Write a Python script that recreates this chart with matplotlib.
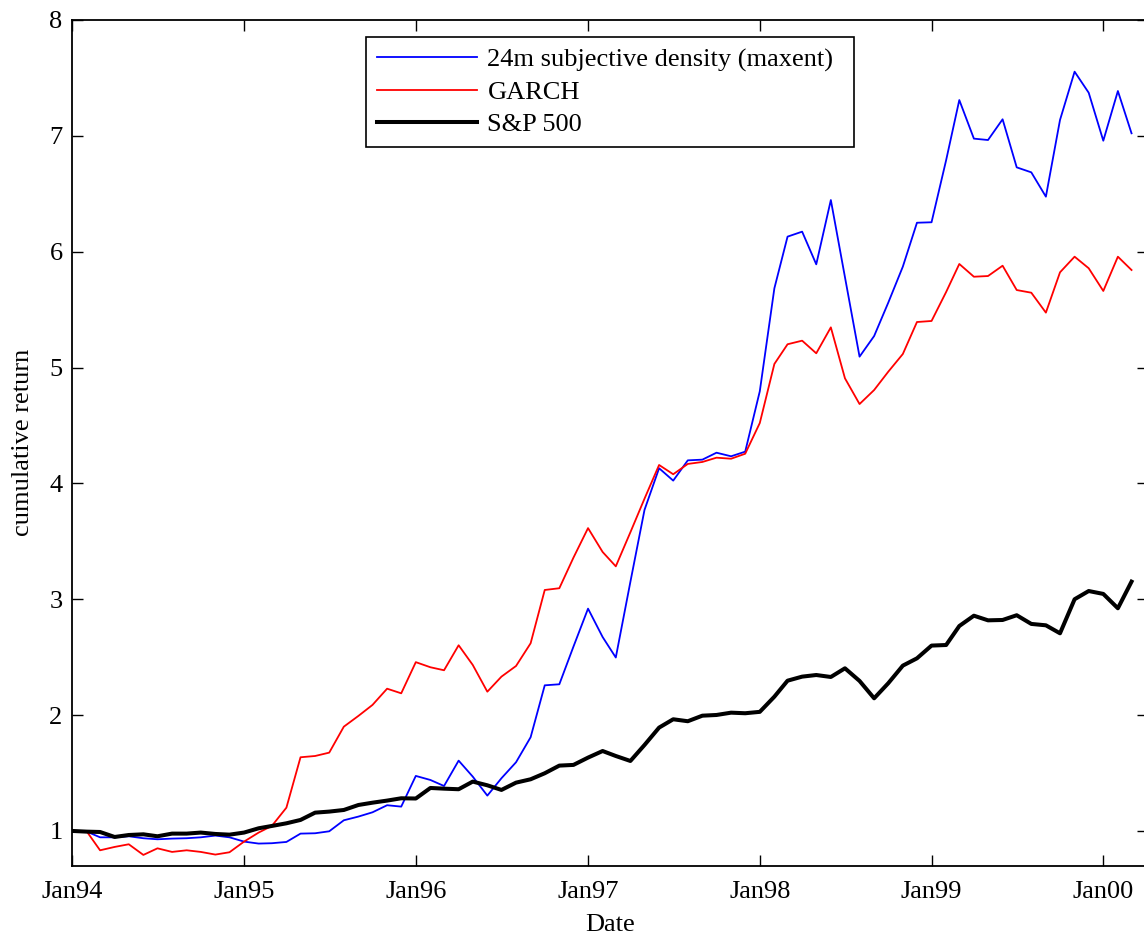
import numpy as np
import pandas as pd
import matplotlib
matplotlib.use('Agg')
import matplotlib.pyplot as plt
import matplotlib.dates as mdates

plt.rcParams['font.family'] = ['Liberation Serif', 'DejaVu Serif']
plt.rcParams['font.size'] = 19

# monthly observations, Jan 1994 .. Mar 2000
dates = pd.date_range('1994-01-01', periods=75, freq='MS')

maxent = [1.000, 0.994, 0.945, 0.945, 0.954, 0.937, 0.928, 0.934, 0.937, 0.945,
          0.960, 0.945, 0.908, 0.891, 0.894, 0.905, 0.977, 0.980, 0.997, 1.092,
          1.124, 1.161, 1.222, 1.210, 1.475, 1.440, 1.388, 1.607, 1.469, 1.305,
          1.455, 1.593, 1.809, 2.257, 2.266, 2.591, 2.919, 2.674, 2.497, 3.150,
          3.771, 4.131, 4.024, 4.199, 4.205, 4.265, 4.234, 4.274, 4.795, 5.684,
          6.130, 6.173, 5.891, 6.446, 5.780, 5.094, 5.272, 5.560, 5.871, 6.250,
          6.254, 6.790, 7.309, 6.976, 6.964, 7.143, 6.728, 6.685, 6.475, 7.137,
          7.554, 7.372, 6.958, 7.387, 7.022]

garch = [1.000, 0.994, 0.833, 0.862, 0.885, 0.793, 0.850, 0.819, 0.833, 0.819,
         0.796, 0.816, 0.908, 0.986, 1.043, 1.201, 1.636, 1.647, 1.676, 1.900,
         1.993, 2.088, 2.228, 2.188, 2.457, 2.413, 2.387, 2.603, 2.433, 2.202,
         2.332, 2.424, 2.620, 3.080, 3.095, 3.359, 3.614, 3.408, 3.284, 3.578,
         3.868, 4.159, 4.079, 4.168, 4.185, 4.222, 4.213, 4.256, 4.521, 5.031,
         5.201, 5.232, 5.123, 5.347, 4.907, 4.685, 4.806, 4.964, 5.117, 5.393,
         5.402, 5.652, 5.894, 5.784, 5.790, 5.879, 5.669, 5.646, 5.474, 5.822,
         5.957, 5.857, 5.661, 5.957, 5.842]

sp500 = [1.000, 0.994, 0.991, 0.948, 0.965, 0.971, 0.954, 0.977, 0.977, 0.986,
         0.974, 0.968, 0.986, 1.023, 1.043, 1.066, 1.095, 1.158, 1.167, 1.181,
         1.224, 1.244, 1.262, 1.282, 1.280, 1.371, 1.365, 1.360, 1.426, 1.394,
         1.354, 1.417, 1.446, 1.498, 1.564, 1.570, 1.633, 1.690, 1.647, 1.604,
         1.742, 1.892, 1.964, 1.947, 1.995, 2.001, 2.021, 2.016, 2.028, 2.159,
         2.297, 2.332, 2.346, 2.329, 2.404, 2.295, 2.145, 2.275, 2.427, 2.490,
         2.600, 2.605, 2.769, 2.858, 2.818, 2.821, 2.862, 2.787, 2.775, 2.706,
         3.000, 3.071, 3.046, 2.922, 3.152]

fig = plt.figure(figsize=(11.44, 9.38), dpi=100)
W, H = 1144, 938
ax = fig.add_axes([72.3 / W, 1 - 865.7 / H, (1148 - 72.3) / W, (865.7 - 20) / H])

ax.plot(dates, maxent, color='blue', lw=1.3, label='24m subjective density (maxent)')
ax.plot(dates, garch, color='red', lw=1.3, label='GARCH')
ax.plot(dates, sp500, color='black', lw=2.9, label='S&P 500')

ax.set_xlim(pd.Timestamp('1994-01-01'), pd.Timestamp('2000-04-05'))
ax.set_ylim(0.7, 8)
ax.set_yticks(range(1, 9))
ax.xaxis.set_major_locator(mdates.YearLocator())
ax.xaxis.set_major_formatter(mdates.DateFormatter('%b%y'))

ax.tick_params(direction='in', length=8, width=1, top=True, right=True, pad=7)
ax.tick_params(axis='x', pad=11)
for s in ax.spines.values():
    s.set_linewidth(1.3)

ax.set_xlabel('Date', labelpad=8)
ax.set_ylabel('cumulative return', labelpad=11)

# legend box spans a fixed width, entries stay left-aligned
leg = ax.legend(loc='upper left',
                bbox_to_anchor=(366 / W, 1 - 144 / H, 488 / W, 107 / H),
                bbox_transform=fig.transFigure, borderaxespad=0, mode='expand',
                fancybox=False, framealpha=1, edgecolor='black',
                handlelength=3.8, handletextpad=0.38, borderpad=0.42,
                labelspacing=0.33)
leg.get_frame().set_linewidth(1.2)

fig.savefig('out.png', dpi=100)
